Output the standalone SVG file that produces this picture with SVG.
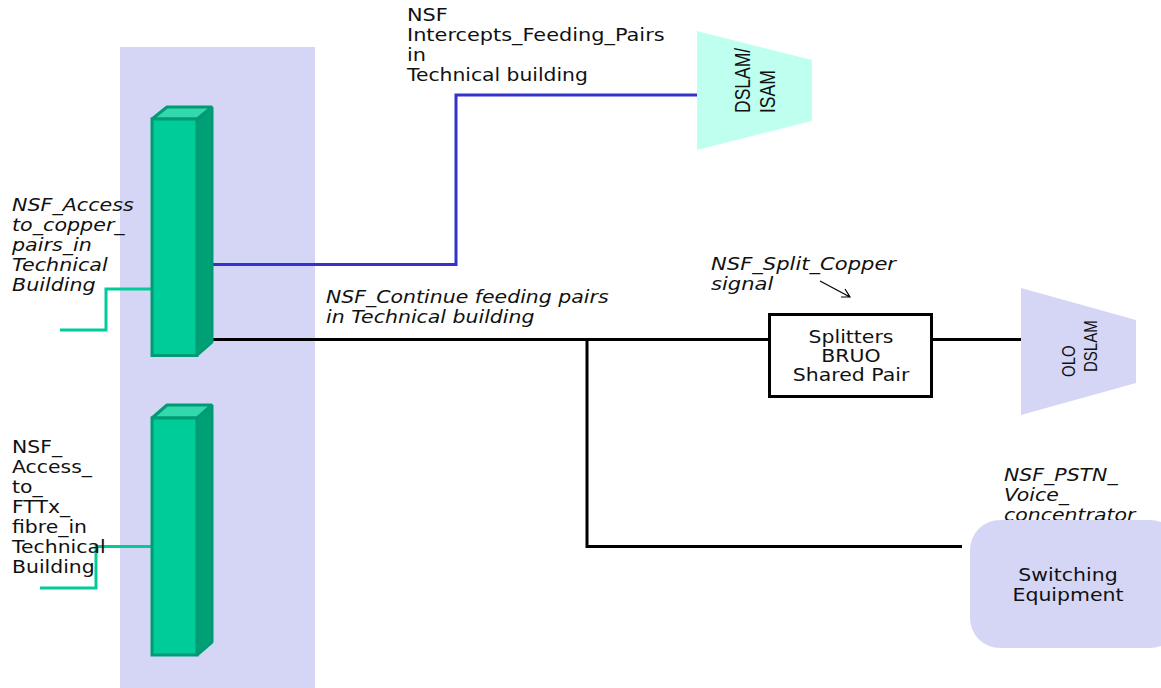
<svg xmlns="http://www.w3.org/2000/svg" width="1161" height="688" viewBox="0 0 1161 688">
<defs>
<style>
text{font-family:"DejaVu Sans","Liberation Sans",sans-serif;font-size:17.5px;fill:#111}
.i{font-style:italic}
.m{text-anchor:middle}
.v{font-family:"Liberation Sans",sans-serif}
.front{fill:#00cc99;stroke:#009b74;stroke-width:3}
.top{fill:#33d9ad;stroke:#009b74;stroke-width:3;stroke-linejoin:bevel}
.side{fill:#00a077;stroke:#009b74;stroke-width:3;stroke-linejoin:bevel}
.wire{fill:none;stroke-width:3}
.k{stroke:#000}.g{stroke:#00cc99}.b{stroke:#3333cc}
</style>
</defs>
<rect id="building" x="120" y="47" width="195" height="641" fill="#d5d6f5"/>
<g id="connectors">
<path class="wire g" d="M151 289H106V330H60"/>
<path class="wire g" d="M151 546.500H96V588H40"/>
<path class="wire b" d="M213 264.500H456V95H697"/>
<path class="wire k" d="M213 339.500H769"/>
<path class="wire k" d="M587 339.500V546.500H962"/>
<path class="wire k" d="M932 339.500H1021"/>
<path fill="none" stroke="#000" stroke-width="1.200" d="M820 281L850 297M841 297H850L845 289"/>
</g>
<g id="rack1">
<path class="side" d="M197 120L212 107V342L197 355Z"/>
<path class="top" d="M152 119L167 107H212L197 119Z"/>
<rect class="front" x="152" y="119" width="45" height="236.500"/>
</g>
<g id="rack2">
<path class="side" d="M197 418L212 405V642L197 655Z"/>
<path class="top" d="M152 418L167 405H212L197 418Z"/>
<rect class="front" x="152" y="418" width="45" height="237"/>
</g>
<g id="dslam">
<path d="M697 31L812 60V121L697 150Z" fill="#bffff0"/>
<text transform="translate(750 113) rotate(-90) scale(1,1.25)" class="v" style="font-size:17.500px">DSLAM/</text>
<text transform="translate(775 113) rotate(-90) scale(1,1.25)" class="v" style="font-size:17.500px">ISAM</text>
</g>
<g id="olo">
<path d="M1021 288L1136 320V383L1021 415Z" fill="#d5d6f5"/>
<text transform="translate(1075 377) rotate(-90) scale(1,1.25)" class="v" style="font-size:15px">OLO</text>
<text transform="translate(1097 372) rotate(-90) scale(1,1.25)" class="v" style="font-size:15px">DSLAM</text>
</g>
<g id="splitters">
<rect x="769.500" y="314.500" width="162" height="82" fill="#fff" stroke="#000" stroke-width="3"/>
<text class="m" transform="translate(851 0) scale(1.17,1)"><tspan x="0" y="343">Splitters</tspan><tspan x="0" y="362">BRUO</tspan><tspan x="0" y="381">Shared Pair</tspan></text>
</g>
<g id="switching">
<text class="i" transform="translate(1004 0) scale(1.17,1)"><tspan x="0" y="481">NSF_PSTN_</tspan><tspan x="0" y="501">Voice_</tspan><tspan x="0" y="521">concentrator</tspan></text>
<rect x="970" y="520" width="210" height="128" rx="30" fill="#d5d6f5"/>
<text class="m" transform="translate(1068 0) scale(1.17,1)"><tspan x="0" y="581">Switching</tspan><tspan x="0" y="601">Equipment</tspan></text>
</g>
<g id="labels">
<text transform="translate(407 0) scale(1.192,1)"><tspan x="0" y="21">NSF</tspan><tspan x="0" y="41">Intercepts_Feeding_Pairs</tspan><tspan x="0" y="61">in</tspan></text>
<text transform="translate(407 0) scale(1.16,1)" y="81">Technical building</text>
<text class="i" transform="translate(12 0) scale(1.18,1)"><tspan x="0" y="211">NSF_Access</tspan><tspan x="0" y="231">to_copper_</tspan><tspan x="0" y="251">pairs_in</tspan><tspan x="0" y="271">Technical</tspan><tspan x="0" y="291">Building</tspan></text>
<text transform="translate(12 0) scale(1.165,1)"><tspan x="0" y="453">NSF_</tspan><tspan x="0" y="473">Access_</tspan><tspan x="0" y="493">to_</tspan><tspan x="0" y="513">FTTx_</tspan><tspan x="0" y="533">fibre_in</tspan><tspan x="0" y="553">Technical</tspan><tspan x="0" y="573">Building</tspan></text>
<text class="i" transform="translate(326 0) scale(1.17,1)"><tspan x="0" y="303">NSF_Continue feeding pairs</tspan><tspan x="0" y="323">in Technical building</tspan></text>
<text class="i" transform="translate(711 0) scale(1.205,1)"><tspan x="0" y="270">NSF_Split_Copper</tspan><tspan x="0" y="290">signal</tspan></text>
</g>
</svg>
